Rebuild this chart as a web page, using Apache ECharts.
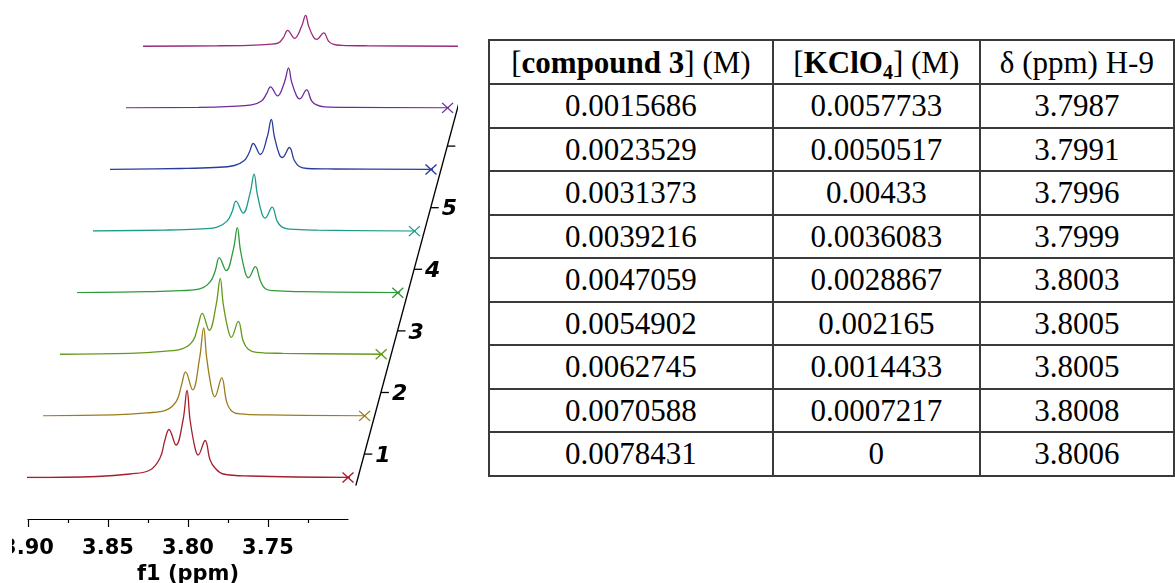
<!DOCTYPE html>
<html>
<head>
<meta charset="utf-8">
<title>stacked spectra</title>
<script src="https://cdn.jsdelivr.net/npm/echarts@6/dist/echarts.min.js"></script>
<style>
  body { margin: 0; width: 1175px; height: 583px; background: #fff; position: relative; overflow: hidden; }
  #chart { position: absolute; left: 12px; top: 0; width: 446px; height: 583px; }
  table { position: absolute; left: 488px; top: 39px; border-collapse: collapse; table-layout: fixed;
          font-family: "Liberation Serif", "Times New Roman", serif; font-size: 31px; color: #000; }
  td { border: 2px solid #3a3a3a; text-align: center; padding: 0; height: 41.5px; line-height: 1; }
  tr.head td { height: 42px; }
  sub { font-size: 20px; vertical-align: -6px; line-height: 0; }
</style>
</head>
<body>
<div id="chart"></div>
<table id="tbl">
  <colgroup><col style="width:286px"><col style="width:208px"><col style="width:196px"></colgroup>
  <tr class="head">
    <td>[<b>compound 3</b>] (M)</td>
    <td>[<b>KClO<sub>4</sub></b>] (M)</td>
    <td>&delta; (ppm) H-9</td>
  </tr>
</table>
<script>
// 表格数据
var compound = ['0.0015686', '0.0023529', '0.0031373', '0.0039216', '0.0047059', '0.0054902', '0.0062745', '0.0070588', '0.0078431'];
var kclo4 = ['0.0057733', '0.0050517', '0.00433', '0.0036083', '0.0028867', '0.002165', '0.0014433', '0.0007217', '0'];
var delta = ['3.7987', '3.7991', '3.7996', '3.7999', '3.8003', '3.8005', '3.8005', '3.8008', '3.8006'];

// 谱图数据: 每条谱线主峰位置 (从下到上) 和相对主峰的偏移 (ppm)
var peakPpm = [3.8006, 3.8006, 3.8006, 3.8003, 3.8002, 3.7998, 3.7994, 3.7991];
var ppmOffset = [0.1063, 0.0563, 0.0356, 0.0231, 0.0169, 0.0138, 0.0113, 0.0069, 0.0025, 0,
                 -0.0019, -0.005, -0.0069, -0.0113, -0.0144, -0.0175, -0.0225, -0.0394, -0.1063];
var trace1 = [0, 1, 3.5, 7.5, 19.5, 37.5, 48, 32.5, 57.5, 87, 57.5, 29.5, 22.5, 37, 17.5, 9.5, 3.5, 1.5, 0];
var trace2 = [0, 1, 3, 6, 15, 31, 44, 26, 58, 88, 58, 27, 19, 38, 14, 5, 2, 1, 0];
var trace3 = [0, 1, 3, 6, 14, 29, 41, 24, 50, 76, 50, 24, 17, 33, 13, 5, 2, 1, 0];
var trace4 = [0, 1, 2, 4, 11, 22, 35, 22, 43, 65, 43, 20, 15, 26, 12, 4, 2, 1, 0];
var trace5 = [0, 1, 2, 4, 10, 19, 30, 18, 38, 57, 38, 17, 13, 24, 10, 4, 2, 1, 0];
var trace6 = [0, 1, 2, 4, 9, 17, 26, 15, 33, 50, 33, 15, 12, 22, 9, 3, 1, 0.5, 0];
var trace7 = [0, 0.5, 1.5, 3, 7, 14, 21, 12, 26, 40, 26, 12, 9, 18, 7, 3, 1, 0.5, 0];
var trace8 = [0, 0.5, 1, 2, 3.5, 9, 16, 8, 20, 31, 20, 9, 7, 13.5, 5, 2, 1, 0.5, 0];
var traces = [trace1, trace2, trace3, trace4, trace5, trace6, trace7, trace8];

// 刻度
var xTicks = [3.90, 3.85, 3.80, 3.75];
var zTicks = ['1', '2', '3', '4', '5', ''];

// 填表
(function () {
  var tbl = document.getElementById('tbl');
  for (var i = 0; i < compound.length; i++) {
    var tr = document.createElement('tr');
    [compound[i], kclo4[i], delta[i]].forEach(function (t) {
      var td = document.createElement('td');
      td.textContent = t;
      tr.appendChild(td);
    });
    tbl.appendChild(tr);
  }
})();

(function () {
  var myChart = echarts.init(document.getElementById('chart'));
  var colors = ['#a3202c', '#9c7c1c', '#649a1a', '#2e9a3c', '#1c9a8c', '#2a3c9c', '#6c2c9c', '#9c2a7c'];
  // 每条谱线的错位
  var baseLeft = 16, baseTop = 377.5, plotW = 320, plotH = 100;
  var stepX = 16.6, stepY = 61.6;

  var grids = [], xAxes = [], yAxes = [], series = [];
  traces.forEach(function (vals, i) {
    grids.push({
      left: baseLeft + i * stepX, top: baseTop - i * stepY, width: plotW, height: plotH,
      containLabel: false, outerBoundsMode: 'none'
    });
    var xa = { gridIndex: i, type: 'value', min: 3.70, max: 3.90, interval: 0.05, inverse: true, show: false, splitLine: { show: false } };
    if (i === 0) {
      xa = {
        gridIndex: 0, type: 'value', min: 3.70, max: 3.90, interval: 0.05, inverse: true,
        position: 'bottom',
        offset: 41.5,
        name: 'f1 (ppm)', nameLocation: 'middle', nameGap: 45,
        nameTextStyle: { fontFamily: 'DejaVu Sans', fontWeight: 'bold', fontSize: 21, color: '#000' },
        axisLine: { onZero: false, lineStyle: { color: '#000', width: 1.2 } },
        axisTick: { inside: false, length: 8, customValues: xTicks, lineStyle: { color: '#000', width: 1.2 } },
        minorTick: { show: true, splitNumber: 2, length: 4, lineStyle: { color: '#000', width: 1.2 } },
        axisLabel: {
          customValues: xTicks, margin: 19, color: '#000',
          fontFamily: 'DejaVu Sans', fontWeight: 'bold', fontSize: 21,
          formatter: function (v) { return v.toFixed(2); }
        },
        splitLine: { show: false }
      };
    }
    xAxes.push(xa);
    yAxes.push({ gridIndex: i, type: 'value', min: 0, max: plotH, show: false, splitLine: { show: false } });
    var s = {
      type: 'line',
      xAxisIndex: i,
      yAxisIndex: i,
      smooth: 0.4,
      symbol: 'none',
      silent: true,
      z: 10 - i,
      lineStyle: { color: colors[i], width: 1.3 },
      data: vals.map(function (v, j) { return [peakPpm[i] + ppmOffset[j], v]; })
    };
    // 最上面那条的叉号在画面外
    if (i < traces.length - 1) {
      s.markPoint = {
        symbol: 'path://M0,0L10,10M10,0L0,10',
        symbolSize: [11, 10],
        silent: true,
        label: { show: false },
        itemStyle: { color: 'rgba(0,0,0,0)', borderColor: colors[i], borderWidth: 1.3 },
        data: [{ coord: [3.70, 0] }]
      };
    }
    series.push(s);
  });

  // 斜的 z 轴
  var axX = function (l) { return baseLeft + plotW + 10 + l * stepX; };
  var axY = function (l) { return baseTop + plotH - l * stepY; };
  var graphic = [{
    type: 'line', silent: true,
    shape: { x1: axX(-0.13), y1: axY(-0.13), x2: axX(6.06), y2: axY(6.06) },
    style: { stroke: '#000', lineWidth: 1.3 }
  }];
  zTicks.forEach(function (t, k) {
    var l = k + 0.38;
    graphic.push({
      type: 'line', silent: true,
      shape: { x1: axX(l), y1: axY(l), x2: axX(l) + 8, y2: axY(l) },
      style: { stroke: '#000', lineWidth: 1.3 }
    });
    if (t) {
      graphic.push({
        type: 'text', silent: true,
        x: axX(l) + 11, y: axY(l) + 2,
        style: { text: t, font: 'italic bold 22px "DejaVu Sans"', fill: '#000', verticalAlign: 'middle' }
      });
    }
  });

  var option = {
    animation: false,
    grid: grids,
    xAxis: xAxes,
    yAxis: yAxes,
    series: series,
    graphic: graphic
  };
  myChart.setOption(option);
  window.addEventListener('resize', function () {
    myChart.resize();
  });
})();
</script>
</body>
</html>
